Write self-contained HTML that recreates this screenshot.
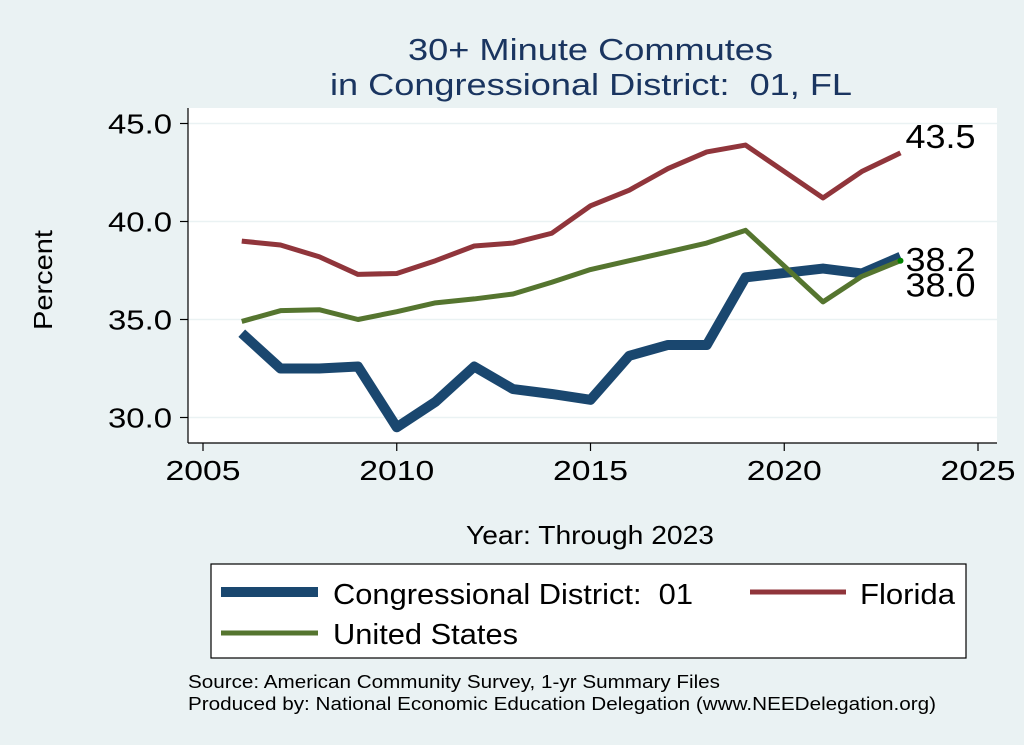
<!DOCTYPE html>
<html><head><meta charset="utf-8"><style>
body{margin:0;background:#eaf2f3;}
svg{display:block;font-family:"Liberation Sans",Arial,sans-serif;}
</style></head><body>
<svg id="chart" width="1024" height="745" viewBox="0 0 1024 745">
<rect x="0" y="0" width="1024" height="745" fill="#eaf2f3"/>
<rect x="188" y="108" width="809" height="335" fill="#ffffff"/>
<text x="408" y="60" textLength="365" lengthAdjust="spacingAndGlyphs" font-size="31" fill="#1a3560">30+ Minute Commutes</text>
<text x="330" y="95" textLength="522" lengthAdjust="spacingAndGlyphs" font-size="31" fill="#1a3560" xml:space="preserve" style="white-space:pre">in Congressional District:  01, FL</text>
<g id="grid"></g>
<g id="axes"></g>
<g id="series"></g>
<text x="52" y="280" transform="rotate(-90 52 280)" text-anchor="middle" textLength="100" lengthAdjust="spacingAndGlyphs" font-size="26" fill="#000">Percent</text>
<text x="466" y="544" textLength="248" lengthAdjust="spacingAndGlyphs" font-size="26" fill="#000">Year: Through 2023</text>
<g>
<rect x="211" y="564" width="755" height="94" fill="#fff" stroke="#000" stroke-width="1.2"/>
<line x1="221" y1="592" x2="318" y2="592" stroke="#1a476f" stroke-width="10"/>
<text x="333" y="604" textLength="360" lengthAdjust="spacingAndGlyphs" font-size="29" xml:space="preserve" style="white-space:pre">Congressional District:  01</text>
<line x1="750" y1="592" x2="846" y2="592" stroke="#90353b" stroke-width="5"/>
<text x="860" y="604" textLength="95" lengthAdjust="spacingAndGlyphs" font-size="29">Florida</text>
<line x1="221" y1="633" x2="318" y2="633" stroke="#55752f" stroke-width="5"/>
<text x="333" y="644" textLength="185" lengthAdjust="spacingAndGlyphs" font-size="29">United States</text>
</g>
<text x="188" y="688" textLength="532" lengthAdjust="spacingAndGlyphs" font-size="18">Source: American Community Survey, 1-yr Summary Files</text>
<text x="188" y="710" textLength="748" lengthAdjust="spacingAndGlyphs" font-size="18">Produced by: National Economic Education Delegation (www.NEEDelegation.org)</text>
</svg>
<script>
const years=[2006,2007,2008,2009,2010,2011,2012,2013,2014,2015,2016,2017,2018,2019,2020,2021,2022,2023];
const cdValues=[34.3,32.5,32.5,32.6,29.5,30.8,32.6,31.45,31.2,30.9,33.15,33.7,33.7,37.15,null,37.6,37.35,38.2];
const flValues=[39.0,38.8,38.2,37.3,37.35,38.0,38.75,38.9,39.4,40.8,41.6,42.7,43.55,43.9,null,41.2,42.55,43.5];
const usValues=[34.9,35.45,35.5,35.0,35.4,35.85,36.05,36.3,36.9,37.55,38.0,38.45,38.9,39.55,null,35.9,37.2,38.0];
const yTicks=[30,35,40,45];
const yTickLabels=["30.0","35.0","40.0","45.0"];
const xTicks=[2005,2010,2015,2020,2025];
const NS="http://www.w3.org/2000/svg";
function X(v){return 203+(v-2005)*38.75;}
function Y(v){return 417.5-(v-30)*19.6;}
function mk(t,a,p){const e=document.createElementNS(NS,t);for(const k in a)e.setAttribute(k,a[k]);p.appendChild(e);return e;}
const grid=document.getElementById('grid'),axes=document.getElementById('axes'),ser=document.getElementById('series');
const ya=mk('line',{x1:188,y1:108,x2:188,y2:443,stroke:'#000','stroke-width':1.2},axes);


const xa=mk('line',{x1:188,y1:443,x2:997,y2:443,stroke:'#000','stroke-width':1.2},axes);


yTicks.forEach((v,i)=>{
 const g=mk('line',{x1:188,x2:997,y1:Y(v),y2:Y(v),stroke:'#eaf2f3','stroke-width':1.5},grid);
 
 
 const tk=mk('line',{x1:180,x2:188,y1:Y(v),y2:Y(v),stroke:'#000','stroke-width':1.2},axes);
 
 
 const t=mk('text',{x:108,y:Y(v)+10,'font-size':28,textLength:64,lengthAdjust:'spacingAndGlyphs'},axes);
 t.textContent=yTickLabels[i];
 
 
});
xTicks.forEach(v=>{
 const tk=mk('line',{x1:X(v),x2:X(v),y1:443,y2:451,stroke:'#000','stroke-width':1.2},axes);
 
 
 const t=mk('text',{x:X(v)-37.5,y:480,'font-size':28,textLength:75,lengthAdjust:'spacingAndGlyphs'},axes);
 t.textContent=String(v);
 
 
});
function path(vals){let d='';years.forEach((y,i)=>{if(vals[i]==null)return;d+=(d?'L':'M')+X(y)+','+Y(vals[i]);});return d;}
const fl=mk('path',{d:path(flValues),fill:'none',stroke:'#90353b','stroke-width':5,'stroke-linejoin':'round'},ser);


const cd=mk('path',{d:path(cdValues),fill:'none',stroke:'#1a476f','stroke-width':10,'stroke-linejoin':'round'},ser);


const us=mk('path',{d:path(usValues),fill:'none',stroke:'#55752f','stroke-width':5,'stroke-linejoin':'round'},ser);


const n=years.length-1;
const dot=mk('circle',{cx:X(years[n]),cy:Y(usValues[n]),r:3,fill:'#008000'},ser);


[[flValues,'florida-end-label',-5],[cdValues,'district-end-label',14],[usValues,'us-end-label',36]].forEach(([vals,nm,dy])=>{
 const t=mk('text',{x:X(years[n])+5,y:Y(vals[n])+dy,'font-size':33,textLength:70,lengthAdjust:'spacingAndGlyphs'},ser);
 t.textContent=vals[n].toFixed(1);
 
 
});
</script>
</body></html>
